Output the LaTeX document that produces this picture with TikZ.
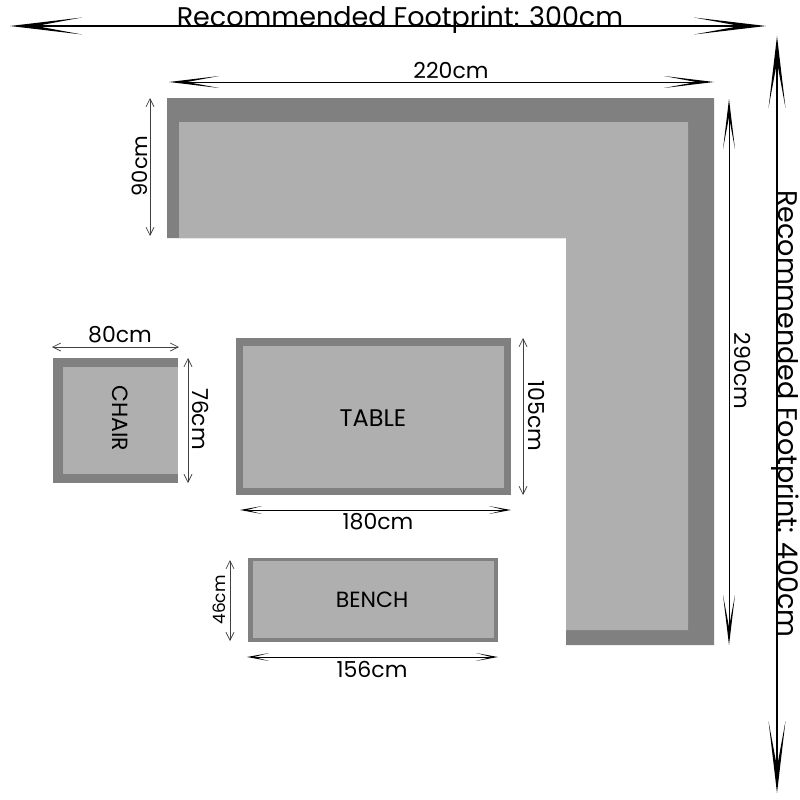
\documentclass[tikz,border=0pt]{standalone}
\usepackage{fontspec}
\setmainfont{Poppins}
\usetikzlibrary{arrows.meta}

\definecolor{framegray}{HTML}{808080}
\definecolor{seatgray}{HTML}{AFAFAF}

\tikzset{
  frame/.style={fill=framegray},
  seat/.style={fill=seatgray},
  hugetip/.style={
    line width=1.4pt,
    {<[sep=0pt]}-{>[sep=0pt]},
    >={Stealth[length=72pt,width=17pt,inset=46pt,line width=0pt]},
  },
  bigtip/.style={
    line width=1pt,
    {<[sep=0pt]}-{>[sep=0pt]},
    >={Stealth[length=50pt,width=12pt,inset=32pt,line width=0pt]},
  },
  smalltip/.style={
    line width=.7pt,
    color=black!75,
    <->,
    >={Straight Barb[length=8pt,width=8pt,line width=.7pt]},
  },
  widetip/.style={
    line width=.8pt,
    <->,
    >={Stealth[length=22pt,width=8pt,inset=15pt,line width=0pt]},
  },
}

\begin{document}
\begin{tikzpicture}[
  x=1pt,
  y=-1pt,
  inner sep=0pt,
  outer sep=0pt,
]
  \useasboundingbox (0, 0) rectangle (800, 800);

  % corner sofa
  \fill[frame]
    (167, 98) -- (714, 98) -- (714, 645) -- (566, 645)
    -- (566, 238) -- (167, 238) -- cycle
  ;
  \fill[seat]
    (179, 122) -- (688, 122) -- (688, 630) -- (566, 630)
    -- (566, 238) -- (179, 238) -- cycle
  ;
  % chair, table, bench
  \fill[frame] (53, 358) rectangle (178, 483);
  \fill[seat] (63, 367) rectangle (178, 474);
  \fill[frame] (236, 338) rectangle (511, 495);
  \fill[seat] (243, 346) rectangle (504, 488);
  \fill[frame] (248, 558) rectangle (498, 642);
  \fill[seat] (253, 561) rectangle (494, 638);

  % ends of the measures
  \path
    \foreach \name/\xa/\ya/\xb/\yb in {
      foot300/10/26/766/26,
      foot400/777/36/777/793,
      sofa220/169/82/714/82,
      sofa290/729/99/729/645,
      sofa90/150/98/150/236,
      chair80/52/347/179/347,
      chair76/188/358/188/483,
      table105/523/338/523/495,
      table180/240/510/511/510,
      bench46/230/560/230/641,
      bench156/247/657/498/657%
    } {
      (\xa, \ya) coordinate (\name a)
      (\xb, \yb) coordinate (\name b)
    }
  ;

  \foreach \name in {foot300, foot400} {
    \draw[hugetip] (\name a) -- (\name b);
  }
  \foreach \name in {sofa220, sofa290} {
    \draw[bigtip] (\name a) -- (\name b);
  }
  \foreach \name in {table180, bench156} {
    \draw[widetip] (\name a) -- (\name b);
  }
  \foreach \name in {sofa90, chair80, chair76, table105, bench46} {
    \draw[smalltip] (\name a) -- (\name b);
  }

  % texts
  \path[every node/.append style={font=\fontsize{27}{32}\selectfont}]
    (400, 20) node (foot300text) {Recommended Footprint: 300cm}
    (785, 414) node[rotate=-90] (foot400text) {Recommended Footprint: 400cm}
  ;
  \path[every node/.append style={font=\fontsize{22}{26}\selectfont}]
    (451, 71) node (sofa220text) {220cm}
    (140, 166) node[rotate=90, font=\fontsize{21}{26}\selectfont] (sofa90text) {90cm}
    (742, 371) node[rotate=-90] (sofa290text) {290cm}
    (120, 335) node (chair80text) {80cm}
    (120, 418) node[rotate=-90] (chairtext) {CHAIR}
    (201, 419) node[rotate=-90] (chair76text) {76cm}
    (373, 418) node[font=\fontsize{24}{28}\selectfont] (tabletext) {TABLE}
    (536, 416) node[rotate=-90] (table105text) {105cm}
    (378, 522) node (table180text) {180cm}
    (372, 600) node (benchtext) {BENCH}
    (372, 669) node (bench156text) {156cm}
  ;
  \node[rotate=90, font=\fontsize{17}{20}\selectfont] (bench46text) at (219, 600) {46cm};
\end{tikzpicture}
\end{document}
